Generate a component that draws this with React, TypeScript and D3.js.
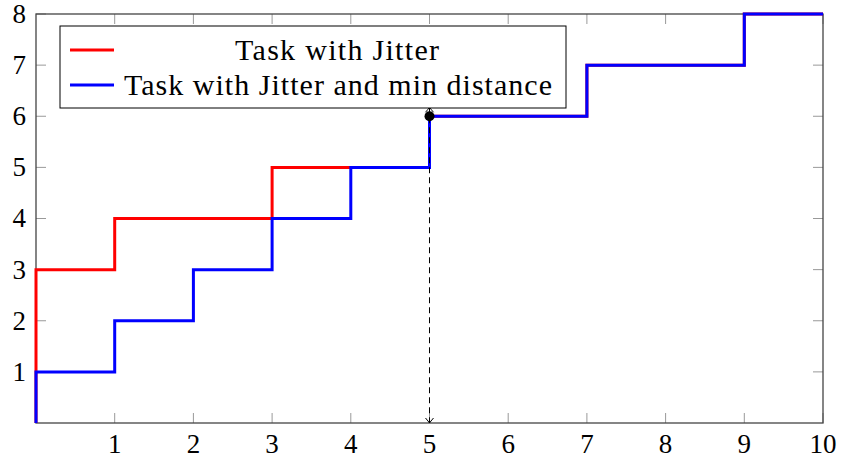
import React from "react";
import * as d3 from "d3";

const W = 841;
const H = 462;

const xTicks = [1, 2, 3, 4, 5, 6, 7, 8, 9, 10];
const yTicks = [1, 2, 3, 4, 5, 6, 7, 8];

const jitterX = [0, 0, 1, 3, 5, 7, 9, 10];
const jitterY = [0, 3, 4, 5, 6, 7, 8, 8];

const minDistX = [0, 0, 1, 2, 3, 4, 5, 7, 9, 10];
const minDistY = [0, 1, 2, 3, 4, 5, 6, 7, 8, 8];

const markerPoint = { x: 5, y: 6 };

const legendLabels = ["Task with Jitter", "Task with Jitter and min distance"];
const seriesColors = ["#ff0000", "#0000ff"];

const FONT = "'Liberation Serif', 'DejaVu Serif', serif";

export default function App() {
  const left = 36, right = 823, top = 14, bottom = 423;
  const x = d3.scaleLinear().domain([0, 10]).range([left, right]);
  const y = d3.scaleLinear().domain([0, 8]).range([bottom, top]);

  const line = d3
    .line<[number, number]>()
    .x((d) => x(d[0]))
    .y((d) => y(d[1]))
    .curve(d3.curveStepAfter);

  const red = jitterX.map((v, i) => [v, jitterY[i]] as [number, number]);
  const blue = minDistX.map((v, i) => [v, minDistY[i]] as [number, number]);

  const tickLen = 10;
  const fs = 27;

  const legendText = [
    { x: 235, len: 204 },
    { x: 124, len: 428 },
  ];

  return (
    <svg
      width={W}
      height={H}
      style={{ position: "absolute", left: 0, top: 0, background: "#fff" }}
      fontFamily={FONT}
    >
      <defs>
        <marker
          id="arr"
          viewBox="-8 -6 10 12"
          markerWidth={10}
          markerHeight={12}
          refX={0}
          refY={0}
          orient="auto-start-reverse"
          markerUnits="userSpaceOnUse"
        >
          <path d="M -5 -4 Q -1.5 -1 0 0 Q -1.5 1 -5 4" fill="none" stroke="#000" strokeWidth={1} />
        </marker>
      </defs>

      {/* ticks */}
      {xTicks.map((t) => (
        <g key={"xt" + t} stroke="#999" strokeWidth={1}>
          <line x1={x(t)} x2={x(t)} y1={bottom} y2={bottom - tickLen} />
          <line x1={x(t)} x2={x(t)} y1={top} y2={top + tickLen} />
        </g>
      ))}
      {yTicks.map((t) => (
        <g key={"yt" + t} stroke="#999" strokeWidth={1}>
          <line x1={left} x2={left + tickLen} y1={y(t)} y2={y(t)} />
          <line x1={right} x2={right - tickLen} y1={y(t)} y2={y(t)} />
        </g>
      ))}

      {/* frame */}
      <rect
        x={left}
        y={top}
        width={right - left}
        height={bottom - top}
        fill="none"
        stroke="#444"
        strokeWidth={1.3}
      />

      {/* series */}
      <path d={line(red) || ""} fill="none" stroke={seriesColors[0]} strokeWidth={3} />
      <path d={line(blue) || ""} fill="none" stroke={seriesColors[1]} strokeWidth={3} />

      {/* dashed annotation */}
      <line
        x1={x(markerPoint.x)}
        x2={x(markerPoint.x)}
        y1={y(markerPoint.y) - 9}
        y2={y(0)}
        stroke="#000"
        strokeWidth={1}
        strokeDasharray="6,4"
        markerStart="url(#arr)"
        markerEnd="url(#arr)"
      />
      <circle cx={x(markerPoint.x)} cy={y(markerPoint.y)} r={5} fill="#000" />

      {/* tick labels */}
      {xTicks.map((t) => (
        <text key={"xl" + t} x={x(t)} y={453} fontSize={fs} textAnchor="middle" fill="#000">
          {t}
        </text>
      ))}
      {yTicks.map((t) => (
        <text
          key={"yl" + t}
          x={26}
          y={y(t)}
          dy="0.33em"
          fontSize={fs}
          textAnchor="end"
          fill="#000"
        >
          {t}
        </text>
      ))}

      {/* legend */}
      <rect x={60} y={26} width={506} height={82} fill="#fff" stroke="#000" strokeWidth={1} />
      {legendLabels.map((lab, i) => {
        const cy = 50 + i * 35;
        return (
          <g key={lab}>
            <line x1={70} x2={114} y1={cy} y2={cy} stroke={seriesColors[i]} strokeWidth={3} />
            <text
              x={legendText[i].x}
              y={cy}
              dy="0.33em"
              fontSize={30}
              textAnchor="start"
              textLength={legendText[i].len}
              lengthAdjust="spacing"
              fill="#000"
            >
              {lab}
            </text>
          </g>
        );
      })}
    </svg>
  );
}
